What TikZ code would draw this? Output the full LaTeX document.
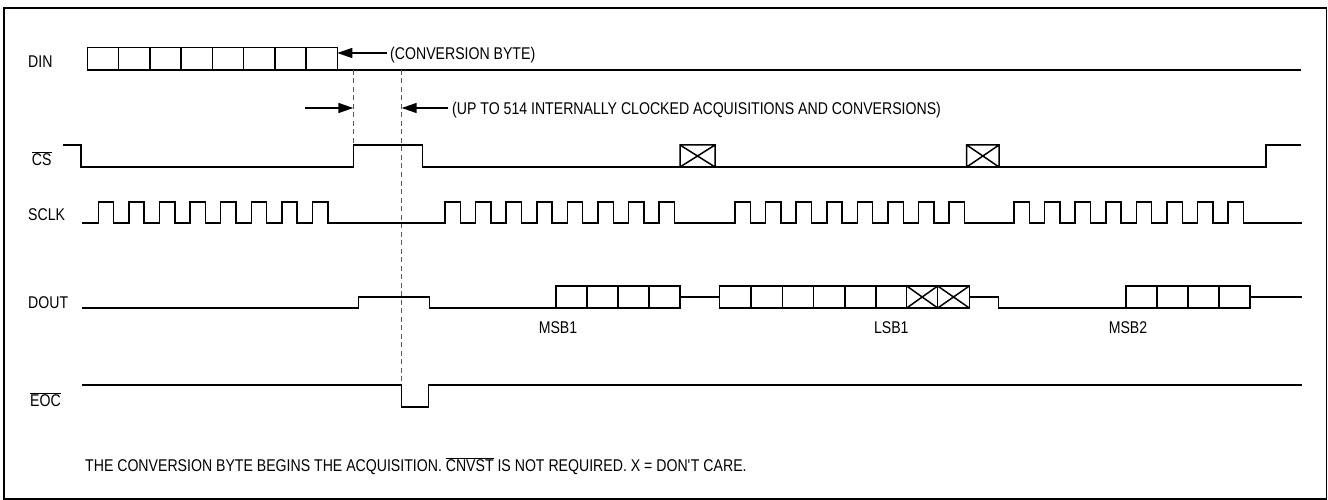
\documentclass[tikz,border=0pt]{standalone}
\usepackage{fontspec}
\setmainfont{Liberation Sans}[FakeStretch=0.83]
\usetikzlibrary{arrows.meta}
\begin{document}
\begin{tikzpicture}[x=1pt,y=-1pt,
  sig/.style={line width=1.5pt, line join=miter},
  dsh/.style={line width=1pt, black!65, dash pattern=on 5pt off 3.5pt},
  lbl/.style={font=\fontsize{17}{20}\selectfont, inner sep=0pt},
  arr/.style={line width=1.5pt, -{Triangle[length=15pt,width=10pt]}}]
\useasboundingbox (0,0) rectangle (1328,500);
\draw[line width=1.3pt] (4,8) rectangle (1326.5,499);
% labels
\node[lbl, anchor=base west] (din) at (28,67.3) {DIN};
\node[lbl, anchor=base west] (cs) at (31.7,165.5) {$\overline{\mbox{CS}}$};
\node[lbl, anchor=base west] (sclk) at (28,220) {SCLK};
\node[lbl, anchor=base west] (dout) at (28,308) {DOUT};
\node[lbl, anchor=base west] (eoc) at (30,406.5) {$\overline{\mbox{EOC}}$};
\node[lbl, anchor=base west] (cb) at (390,59.5) {(CONVERSION BYTE)};
\node[lbl, anchor=base west] (upto) at (452,114.5) {(UP TO 514 INTERNALLY CLOCKED ACQUISITIONS AND CONVERSIONS)};
\node[lbl, anchor=base] (msb1) at (558,333) {MSB1};
\node[lbl, anchor=base] (lsb1) at (891.3,333) {LSB1};
\node[lbl, anchor=base] (msb2) at (1128,333) {MSB2};
\node[lbl, anchor=base west] (note) at (85,471) {THE CONVERSION BYTE BEGINS THE ACQUISITION. $\overline{\mbox{CNVST}}$ IS NOT REQUIRED. X = DON\textquotesingle T CARE.};
% DIN
\draw[sig] (87.3,47.5) rectangle (337.3,70);
\foreach \k in {1,...,7} \draw[sig] ({87.3+31.25*\k},47.5) -- ({87.3+31.25*\k},70);
\draw[sig] (337.3,70) -- (1301,70);
% dashed markers
\draw[dsh] (353.3,70) -- (353.3,145);
\draw[dsh] (401.7,70) -- (401.7,385);
% arrows
\coordinate (a1s) at (387,53); \coordinate (a1e) at (337.3,53);
\coordinate (a2s) at (305,108); \coordinate (a2e) at (353.3,108);
\coordinate (a3s) at (448,108); \coordinate (a3e) at (401.7,108);
\draw[arr] (a1s) -- (a1e);
\draw[arr] (a2s) -- (a2e);
\draw[arr] (a3s) -- (a3e);
% CS
\draw[sig] (63,145) -- (81,145) -- (81,167) -- (353.3,167) -- (353.3,145) -- (422.7,145) -- (422.7,167) -- (1266,167) -- (1266,145) -- (1301,145);
\foreach \a/\b in {680/715, 966.7/999}
  \draw[sig] (\a,145) rectangle (\b,167) (\a,145) -- (\b,167) (\a,167) -- (\b,145);
% SCLK
\draw[sig] (81.7,223) foreach \s in {98.3,445,735,1014}{ foreach \k in {0,...,7}{ -- ({\s+30.6*\k},223) -- ({\s+30.6*\k},202) -- ({\s+30.6*\k+15.3},202) -- ({\s+30.6*\k+15.3},223) } } -- (1302,223);
% DOUT
\draw[sig] (81.7,308) -- (358.3,308) -- (358.3,297) -- (429.3,297) -- (429.3,308) -- (556,308);
\draw[sig] (556,286) rectangle (680,308);
\foreach \x in {587,618,649} \draw[sig] (\x,286) -- (\x,308);
\draw[sig] (680,297) -- (719.3,297);
\draw[sig] (719.3,286) rectangle (969.3,308);
\foreach \x in {751,782.3,813.3,845,876,906.7,937.7} \draw[sig] (\x,286) -- (\x,308);
\foreach \a/\b in {906.7/937.7, 937.7/969.3}
  \draw[sig] (\a,286) -- (\b,308) (\a,308) -- (\b,286);
\draw[sig] (969.3,297) -- (998.3,297) -- (998.3,308) -- (1126,308);
\draw[sig] (1126,286) rectangle (1250,308);
\foreach \x in {1157,1188,1219} \draw[sig] (\x,286) -- (\x,308);
\draw[sig] (1250,297) -- (1302,297);
% EOC
\draw[sig] (81.7,385) -- (401.7,385) -- (401.7,407) -- (428.3,407) -- (428.3,385) -- (1302,385);
\end{tikzpicture}
\end{document}
